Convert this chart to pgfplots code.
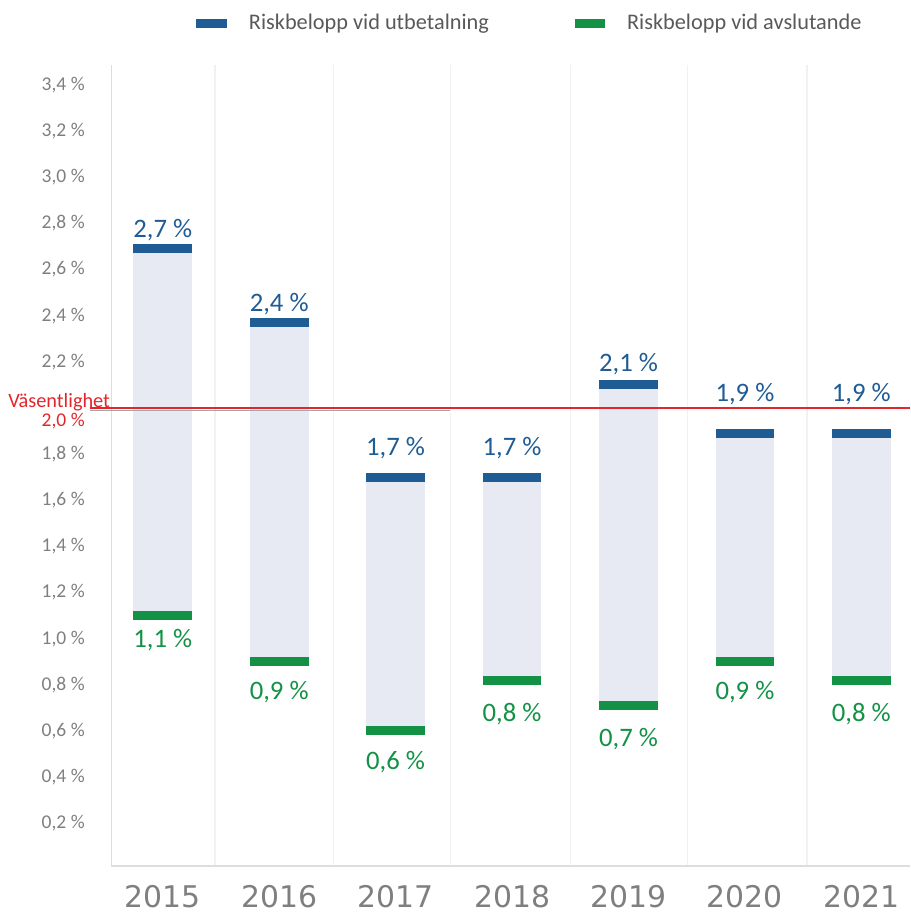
\documentclass[border=0pt]{standalone}
\usepackage{fontspec}
\setmainfont{Carlito}
\newfontfamily\dejavu{DejaVu Sans}
\usepackage{pgfplots}
\pgfplotsset{compat=1.18}
\usepackage{pgfplotstable}

\definecolor{mblue}{RGB}{31,92,148}
\definecolor{mgreen}{RGB}{19,145,69}
\definecolor{barfill}{RGB}{232,234,243}
\definecolor{vred}{RGB}{227,38,43}
\definecolor{tickgrey}{RGB}{127,127,127}
\definecolor{axisgrey}{RGB}{221,221,221}
\definecolor{gridgrey}{RGB}{241,241,241}
\definecolor{legtext}{RGB}{89,89,89}

\pgfdeclareplotmark{hbar}{%
  \pgfpathrectangle{\pgfpoint{-14.75pt}{-2.25pt}}{\pgfpoint{29.5pt}{4.5pt}}%
  \pgfusepathqfill}

% risk amounts in percent
\pgfplotstableread{
x blue green
0 2.69 1.10
1 2.37 0.90
2 1.70 0.60
3 1.70 0.82
4 2.10 0.71
5 1.89 0.90
6 1.89 0.82
}\riskdata

% label baselines
\pgfplotstableread{
x y label
0 2.738 {2,7 \%}
1 2.418 {2,4 \%}
2 1.793 {1,7 \%}
3 1.793 {1,7 \%}
4 2.160 {2,1 \%}
5 2.026 {1,9 \%}
6 2.026 {1,9 \%}
}\bluelabels

\pgfplotstableread{
x y label
0 0.960 {1,1 \%}
1 0.736 {0,9 \%}
2 0.434 {0,6 \%}
3 0.641 {0,8 \%}
4 0.533 {0,7 \%}
5 0.736 {0,9 \%}
6 0.641 {0,8 \%}
}\greenlabels

\begin{document}
\begin{tikzpicture}
\begin{axis}[
    scale only axis,
    width=401pt, height=402.5pt,
    xmin=-0.44, xmax=6.415,
    ymin=0.0155, ymax=3.488,
    clip=false,
    axis x line*=bottom, axis y line*=left,
    axis line style={-, draw=axisgrey, line width=0.9pt},
    major tick length=0pt, minor tick length=0pt,
    xtick={0,...,6},
    xticklabels={2015,2016,2017,2018,2019,2020,2021},
    minor xtick={0.449,1.466,2.474,3.5,4.509,5.534},
    xminorgrids=true,
    minor grid style={draw=gridgrey, line width=0.6pt},
    xticklabel style={font=\dejavu\fontsize{15}{18}\selectfont, text=tickgrey, anchor=north, yshift=-6.5pt},
    ytick={0.2,0.4,0.6,0.8,1.0,1.2,1.4,1.6,1.8,2.2,2.4,2.6,2.8,3.0,3.2,3.4},
    yticklabels={{0,2 \%},{0,4 \%},{0,6 \%},{0,8 \%},{1,0 \%},{1,2 \%},{1,4 \%},{1,6 \%},{1,8 \%},{2,2 \%},{2,4 \%},{2,6 \%},{2,8 \%},{3,0 \%},{3,2 \%},{3,4 \%}},
    extra y ticks={2.0},
    extra y tick style={yticklabel={2,0 \%}, yticklabel style={yshift=-6.5pt, text=vred}},
    yticklabel style={font=\fontsize{9.8}{12}\selectfont, text=tickgrey, anchor=east, inner sep=0pt, xshift=-13.25pt},
    legend columns=2,
    legend style={at={(rel axis cs:0.523,1.0515)}, anchor=center, draw=none, fill=none,
        font=\fontsize{11.2}{13}\selectfont, text=legtext, inner sep=0pt,
        nodes={inner sep=0pt},
        /tikz/every odd column/.append style={column sep=11pt},
        /tikz/every even column/.append style={column sep=43pt}},
]
% picture frame
\path (rel axis cs:-0.1397,-0.0559) rectangle (rel axis cs:1,1.0807);

% floating range bars
\addplot[forget plot, draw=none, mark=none,
    error bars/.cd, y dir=plus, y explicit, error mark=none,
    error bar style={line width=29.5pt, draw=barfill}]
    table[x=x, y=green, y error expr=\thisrow{blue}-\thisrow{green}] {\riskdata};

\addplot[only marks, mark=hbar, color=mblue,
    legend image code/.code={\fill[mblue] (0pt,-2pt) rectangle (15pt,2pt);}]
    table[x=x, y=blue] {\riskdata};
\addlegendentry{Riskbelopp vid utbetalning}

\addplot[only marks, mark=hbar, color=mgreen,
    legend image code/.code={\fill[mgreen] (0pt,-2pt) rectangle (15pt,2pt);}]
    table[x=x, y=green] {\riskdata};
\addlegendentry{Riskbelopp vid avslutande}

% materiality line
\addplot[forget plot, draw=black!35, line width=0.5pt] coordinates {(-0.628,1.99) (2.466,1.99)};
\addplot[forget plot, draw=vred, line width=1.25pt] coordinates {(-0.628,2.0) (6.415,2.0)};
\node[anchor=base east, inner sep=0pt, text=vred, font=\fontsize{10.2}{12}\selectfont] at (axis cs:-0.449,2.0) {Väsentlighet};

% value labels
\addplot[forget plot, draw=none, mark=none, nodes near coords, point meta=explicit symbolic,
    every node near coord/.append style={anchor=base, inner sep=0pt, text=mblue, font=\fontsize{13.4}{15}\selectfont}]
    table[x=x, y=y, meta=label] {\bluelabels};
\addplot[forget plot, draw=none, mark=none, nodes near coords, point meta=explicit symbolic,
    every node near coord/.append style={anchor=base, inner sep=0pt, text=mgreen, font=\fontsize{13.4}{15}\selectfont}]
    table[x=x, y=y, meta=label] {\greenlabels};
\end{axis}
\end{tikzpicture}
\end{document}
